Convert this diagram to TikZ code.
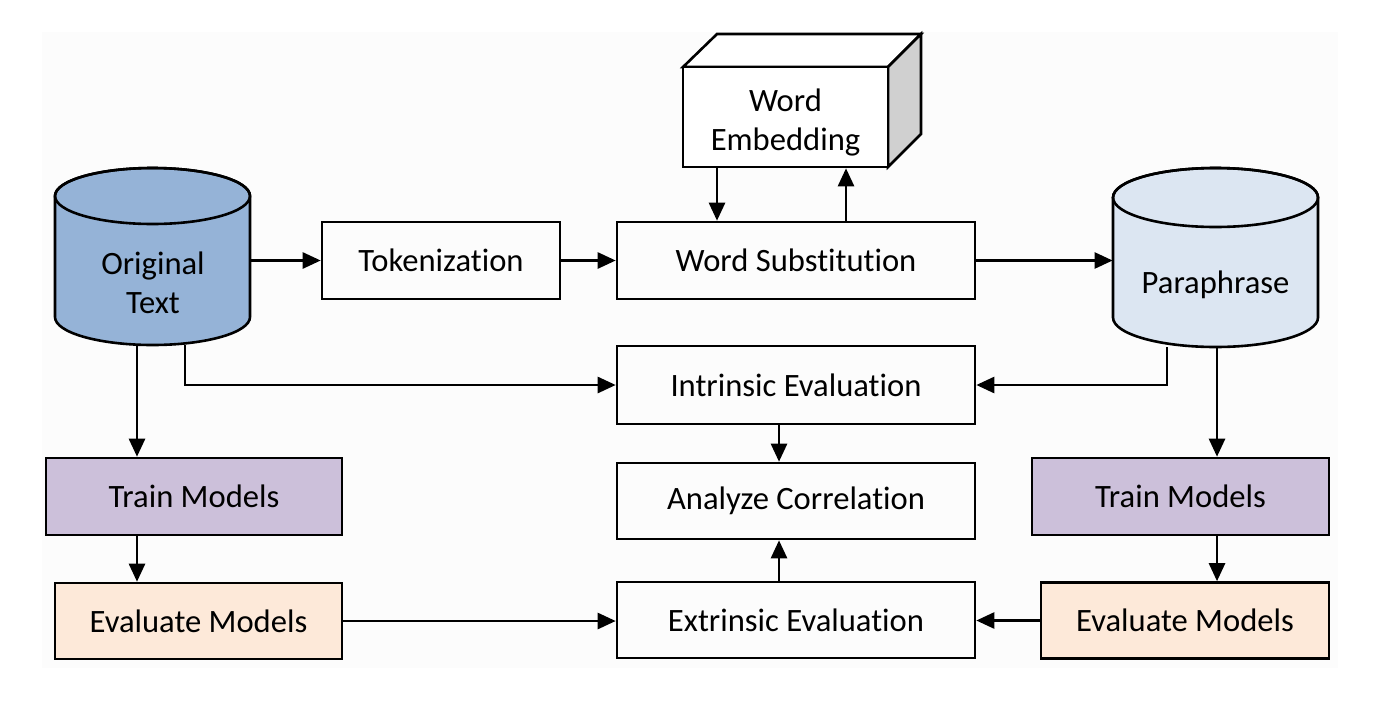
\documentclass[tikz,border=0pt]{standalone}
\usepackage{fontspec}
\setmainfont[Ligatures={NoCommon}]{Carlito}
\usetikzlibrary{arrows.meta,positioning}
\definecolor{origblue}{HTML}{95B3D7}
\definecolor{parablue}{HTML}{DCE6F2}
\definecolor{trainlilac}{HTML}{CCC0DA}
\definecolor{evalpeach}{HTML}{FDE9D9}
\definecolor{sidegray}{HTML}{D0D0D0}
\tikzset{
  block/.style={draw, line width=1.3pt, minimum height=38.5pt, inner sep=0pt,
    align=center, font=\fontsize{16.3}{19.5}\selectfont},
  txt/.style={align=center, font=\fontsize{16.3}{19.5}\selectfont},
  flow/.style={line width=1.3pt, -{Triangle[length=9pt,width=8pt]}},
}
\begin{document}
\begin{tikzpicture}[x=0.5pt,y=-0.5pt]
\useasboundingbox (0,0) rectangle (1400,707);
\fill[black!1] (42,32) rectangle (1338,668);
% databases
\draw[line width=1.3pt, fill=origblue] (55,196) -- (55,317) arc (180:360:48.75pt and 14pt)
  -- (250,196) arc (0:180:48.75pt and 14pt) -- cycle;
\draw[line width=1.3pt] (152.5,196) ellipse [x radius=48.75pt, y radius=14pt];
\node[minimum width=97.5pt, minimum height=88.5pt, inner sep=0pt] (orig) at (152.5,256.5) {};
\node[txt] (origtxt) at (153,283) {Original\\Text};
\draw[line width=1.3pt, fill=parablue] (1113,197.5) -- (1113,317.5) arc (180:360:51.25pt and 14.75pt)
  -- (1318,197.5) arc (0:180:51.25pt and 14.75pt) -- cycle;
\draw[line width=1.3pt] (1215.5,197.5) ellipse [x radius=51.25pt, y radius=14.75pt];
\node[minimum width=102.5pt, minimum height=89.5pt, inner sep=0pt] (para) at (1215.5,257.5) {};
\node[txt] (paratxt) at (1215.5,285) {Paraphrase};
% embedding cuboid
\draw[line width=1.3pt, fill=white] (683,67) -- (717,34) -- (921,34) -- (888,67) -- cycle;
\draw[line width=1.3pt, fill=sidegray] (888,67) -- (921,34) -- (921,134) -- (888,167) -- cycle;
\node[block, fill=white, minimum width=102.5pt, minimum height=50pt] (emb) at (785.5,117) {};
\node[txt] (embtxt) at (785.5,122) {Word\\Embedding};
% process boxes
\node[block, minimum width=119pt] (tok) at (441,260.5) {Tokenization};
\node[block, minimum width=179pt] (sub) at (796,260.5) {Word Substitution};
\node[block, minimum width=179pt, minimum height=39pt] (intr) at (796,385) {Intrinsic Evaluation};
\node[block, minimum width=179pt, minimum height=38pt] (corr) at (796,501) {Analyze Correlation};
\node[block, minimum width=179pt, minimum height=38pt] (extr) at (796,620) {Extrinsic Evaluation};
\node[block, fill=trainlilac, minimum width=148pt] (trainL) at (194,496.5) {Train Models};
\node[block, fill=evalpeach, minimum width=143.5pt, minimum height=38pt] (evalL) at (198.5,621) {Evaluate Models};
\node[block, fill=trainlilac, minimum width=148.5pt] (trainR) at (1180.5,496.5) {Train Models};
\node[block, fill=evalpeach, minimum width=144pt, minimum height=38pt] (evalR) at (1185,620.5) {Evaluate Models};
% connectors
\coordinate (ldrop) at (137,345);
\coordinate (ltap) at (185,345);
\coordinate (rdrop) at (1217,347);
\coordinate (rtap) at (1167,347);
\coordinate (embdn) at (717,167);
\coordinate (embup) at (846,222);
\draw[flow] (orig.east |- tok.west) -- (tok.west);
\draw[flow] (tok.east) -- (sub.west);
\draw[flow] (sub.east) -- (sub.east -| para.west);
\draw[flow] (embdn) -- (embdn |- sub.north);
\draw[flow] (embup) -- (embup |- emb.south);
\draw[flow] (ltap) |- (intr.west);
\draw[flow] (rtap) |- (intr.east);
\draw[flow] (ldrop) -- (ldrop |- trainL.north);
\draw[flow] (ldrop |- trainL.south) -- (ldrop |- evalL.north);
\draw[flow] (rdrop) -- (rdrop |- trainR.north);
\draw[flow] (rdrop |- trainR.south) -- (rdrop |- evalR.north);
\draw[flow] ([xshift=-8.5pt]intr.south) -- ([xshift=-8.5pt]corr.north);
\draw[flow] ([xshift=-8.5pt]extr.north) -- ([xshift=-8.5pt]corr.south);
\draw[flow] (evalL.east) -- (evalL.east -| extr.west);
\draw[flow] (evalR.west) -- (evalR.west -| extr.east);
\end{tikzpicture}
\end{document}
